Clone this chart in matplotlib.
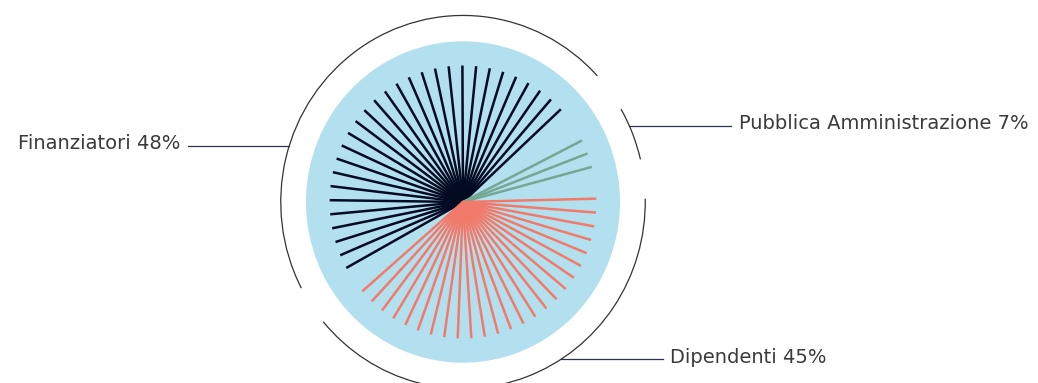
import numpy as np
import matplotlib
matplotlib.use("Agg")
import matplotlib.pyplot as plt
from matplotlib.patches import Circle, Arc

# data
labels = ["Finanziatori", "Pubblica Amministrazione", "Dipendenti"]
shares = [48, 7, 45]
line_counts = [29, 3, 25]
colors = ["#030b22", "#74a794", "#f27a6a"]

# layout (degrees, counter-clockwise from 3 o'clock)
line_first = [42.8, 26.8, 1.4]
line_last = [208.9, 14.9, -139.1]
arc_from = [42.5, 13.2, -140.1]
arc_to = [207.5, 29.9, 1.0]
leader_angle = [162.4, 24.1, -57.5]
leader_len = 0.65

W, H, DPI = 1038, 383, 100
cx_px, cy_px = 463, 202
rx_px, ry_px = 156.3, 160.0

fig = plt.figure(figsize=(W / DPI, H / DPI), dpi=DPI)
ax = fig.add_axes([0, 0, 1, 1])
ax.set_xlim(-cx_px / rx_px, (W - cx_px) / rx_px)
ax.set_ylim(-(H - cy_px) / ry_px, cy_px / ry_px)
ax.axis("off")

ax.add_patch(Circle((0, 0), 1.0, color="#b3e0ee", zorder=1))

r_line = 0.853
r_arc = 1.166
for i in range(len(labels)):
    ang = np.radians(np.linspace(line_first[i], line_last[i], line_counts[i]))
    for a in ang:
        ax.plot([0, r_line * np.cos(a)], [0, r_line * np.sin(a)],
                color=colors[i], lw=1.8, solid_capstyle="butt", zorder=2)

    ax.add_patch(Arc((0, 0), 2 * r_arc, 2 * r_arc, theta1=arc_from[i],
                     theta2=arc_to[i], color="#333333", lw=0.9, zorder=3))

    la = np.radians(leader_angle[i])
    x0, y0 = r_arc * np.cos(la), r_arc * np.sin(la)
    side = 1 if x0 > 0 else -1
    x1 = x0 + side * leader_len
    ax.plot([x0, x1], [y0, y0], color="#2e3350", lw=0.9, zorder=3)
    ax.text(x1 + side * 0.05, y0 - 3.5 / ry_px, f"{labels[i]} {shares[i]}%",
            ha="left" if side > 0 else "right", va="baseline",
            fontsize=14, family="DejaVu Sans", color="#3a3a3a")

fig.savefig("out.png", dpi=DPI)
